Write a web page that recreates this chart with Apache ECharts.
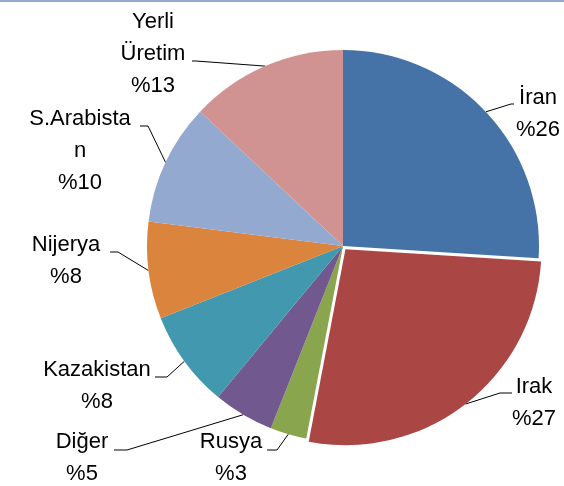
<!DOCTYPE html>
<html>
<head>
<meta charset="utf-8">
<script src="https://cdn.jsdelivr.net/npm/echarts@6/dist/echarts.min.js"></script>
<style>
  html, body { margin: 0; padding: 0; background: #fff; }
  #chart { width: 564px; height: 486px; }
</style>
</head>
<body>
<div id="chart"></div>
<script>
// ============ Data ============
const countries = ['İran', 'Irak', 'Rusya', 'Diğer', 'Kazakistan', 'Nijerya', 'S.Arabistan', 'Yerli Üretim']
const shares = [26, 27, 3, 5, 8, 8, 10, 13]

// ============ Look ============
const colors = ['#4572a7', '#aa4643', '#89a54e', '#71588f', '#4198af', '#db843d', '#93a9cf', '#d19392']
// label text as wrapped in the picture
const labelText = ['İran', 'Irak', 'Rusya', 'Diğer', 'Kazakistan', 'Nijerya', 'S.Arabista\nn', 'Yerli\nÜretim']
// label centre x, top y, leader bend x/y, leader end x/y
const labelSpots = [
  [538, 82, 511, 104, 514, 104],
  [534, 371, 500, 393, 512, 393],
  [231, 426, 277, 450, 267, 450],
  [82, 426, 127, 450, 114, 450],
  [97, 354, 167, 377, 155, 377],
  [66, 229, 118, 252, 110, 252],
  [80, 103, 148, 126, 140, 126],
  [153, 6, 196, 61, 192, 61],
]
const pieCenter = [343, 246]
const pieRadius = 196
const explodeName = 'Irak'
const explodeBy = 4

// pulled-out slice: shift its own copy of the pie along the slice's middle angle
const total = shares.reduce((a, b) => a + b, 0)
const ei = countries.indexOf(explodeName)
const before = shares.slice(0, ei).reduce((a, b) => a + b, 0)
const midAngle = ((before + shares[ei] / 2) / total) * Math.PI * 2
const explodedCenter = [
  pieCenter[0] + explodeBy * Math.sin(midAngle),
  pieCenter[1] - explodeBy * Math.cos(midAngle),
]

const chart = echarts.init(document.getElementById('chart'))
chart.setOption({
  animation: false,
  graphic: [
    { type: 'rect', shape: { x: 0, y: 0, width: 564, height: 2 }, style: { fill: '#95a8cc' } },
  ],
  series: [
    {
      type: 'pie',
      center: pieCenter,
      radius: pieRadius,
      startAngle: 90,
      clockwise: true,
      emphasis: { disabled: true },
      itemStyle: { borderWidth: 0 },
      label: {
        show: true,
        position: 'outside',
        formatter: (p) => labelText[p.dataIndex] + '\n%' + p.value,
        fontFamily: 'Liberation Sans',
        fontSize: 22,
        lineHeight: 32,
        color: '#000',
      },
      labelLine: {
        show: true,
        length: 10,
        length2: 10,
        lineStyle: { color: '#000', width: 1 },
      },
      labelLayout: (p) => {
        const s = labelSpots[p.dataIndex]
        let start = p.labelLinePoints ? p.labelLinePoints[0] : [s[2], s[3]]
        if (p.dataIndex === ei) {
          start = [start[0] + explodedCenter[0] - pieCenter[0], start[1] + explodedCenter[1] - pieCenter[1]]
        }
        return {
          x: s[0],
          y: s[1],
          align: 'center',
          verticalAlign: 'top',
          labelLinePoints: [start, [s[2], s[3]], [s[4], s[5]]],
        }
      },
      data: countries.map((name, i) => ({
        name,
        value: shares[i],
        itemStyle: { color: i === ei ? 'rgba(0,0,0,0)' : colors[i] },
      })),
    },
    {
      type: 'pie',
      silent: true,
      center: explodedCenter,
      radius: pieRadius,
      startAngle: 90,
      clockwise: true,
      label: { show: false },
      labelLine: { show: false },
      itemStyle: { borderWidth: 0 },
      data: countries.map((name, i) => ({
        name,
        value: shares[i],
        itemStyle: { color: i === ei ? colors[i] : 'rgba(0,0,0,0)' },
      })),
    },
  ],
})
</script>
</body>
</html>
